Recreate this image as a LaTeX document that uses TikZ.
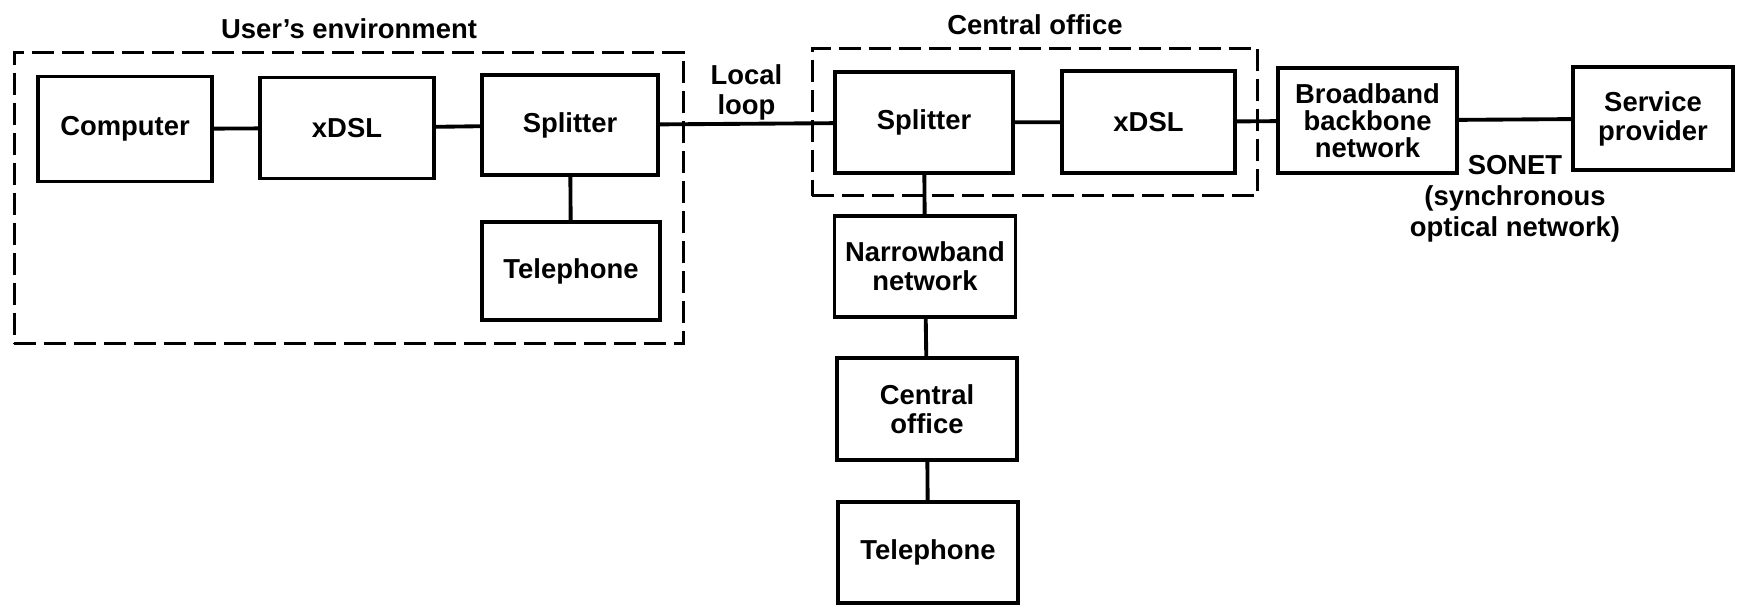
\documentclass[tikz,border=0pt]{standalone}
\usepackage{fontspec}
\setmainfont{Liberation Sans}
\usetikzlibrary{positioning, fit}

\begin{document}
\begin{tikzpicture}[every node/.style={font=\bfseries\fontsize{7.8}{8.3}\selectfont, align=center},
        block/.style={draw, line width=1pt, minimum width=1.78cm, minimum height=1.02cm, inner sep=1pt},
        group/.style={draw, line width=0.8pt, dash pattern=on 0.22cm off 0.08cm, inner sep=0.22cm},
        link/.style={line width=1.1pt}]
        \useasboundingbox (0,0) rectangle (17.38,-6.05);

        % user's side
        \node[block, minimum width=1.74cm, minimum height=1.05cm] (Comp) at (1.25, -1.29) {Computer};
        \node[block, minimum width=1.74cm, minimum height=1.01cm] (UxDSL) at (3.47, -1.28) {xDSL};
        \node[block, minimum width=1.76cm, minimum height=1.00cm] (USpl) at (5.70, -1.25) {Splitter};
        \node[block, minimum height=0.98cm] (UTel) at (5.71, -2.71) {Telephone};

        % central office
        \node[block, minimum height=1.01cm] (CSpl) at (9.24, -1.225) {Splitter};
        \node[block, minimum width=1.73cm] (CxDSL) at (11.485, -1.22) {xDSL};
        \node[block, minimum width=1.79cm, minimum height=1.05cm, font=\bfseries\fontsize{7.8}{7.6}\selectfont] (BB) at (13.675, -1.205) {Broadband\\backbone\\network};
        \node[block, minimum width=1.60cm, minimum height=1.03cm] (SP) at (16.53, -1.185) {Service\\provider};
        \node[block, minimum width=1.81cm, minimum height=1.01cm] (NB) at (9.25, -2.665) {Narrowband\\network};
        \node[block, minimum width=1.80cm] (CO) at (9.27, -4.09) {Central\\office};
        \node[block, minimum width=1.80cm, minimum height=1.01cm] (Tel) at (9.28, -5.525) {Telephone};

        % dashed groups
        \node[group, fit=(Comp)(UTel)] (UE) {};
        \node[group, inner sep=0.21cm, fit=(CSpl)(CxDSL)] (CE) {};
        \node[above=0cm of UE] (UEtitle) {User's environment};
        \node[above=0cm of CE] (CEtitle) {Central office};

        \draw[link] (Comp) -- (UxDSL);
        \draw[link] (UxDSL) -- (USpl);
        \draw[link] (USpl) -- (UTel);
        \draw[link] (USpl) -- node[above=0cm, inner sep=0.5pt, font=\bfseries\fontsize{7.8}{8.6}\selectfont] (LL) {Local\\loop} (CSpl);
        \draw[link] (CSpl) -- (CxDSL);
        \draw[link] (CxDSL) -- (BB);
        \draw[link] (BB) -- node[below=0.22cm, font=\bfseries\fontsize{7.8}{8.8}\selectfont] (SN) {SONET\\(synchronous\\optical network)} (SP);
        \draw[link] (CSpl) -- (NB);
        \draw[link] (NB) -- (CO);
        \draw[link] (CO) -- (Tel);
\end{tikzpicture}
\end{document}
